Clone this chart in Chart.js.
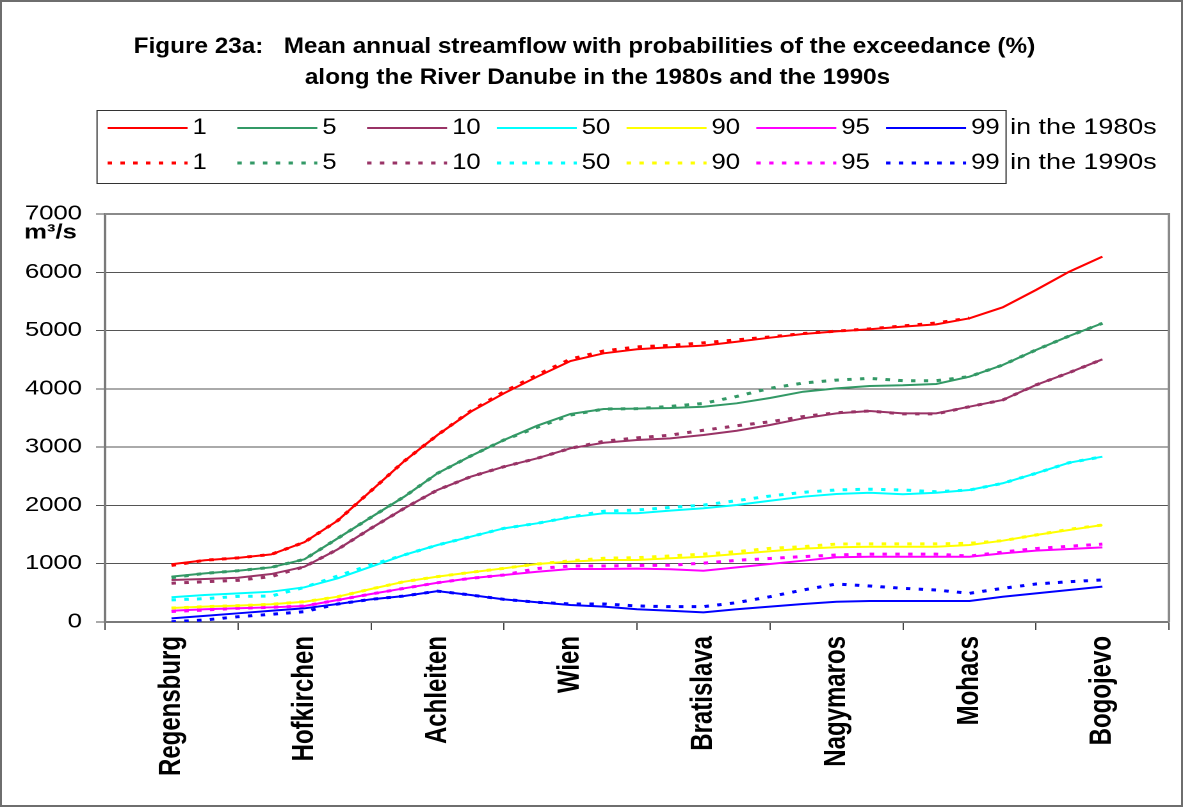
<!DOCTYPE html>
<html>
<head>
<meta charset="utf-8">
<title>Danube streamflow</title>
<script src="https://cdn.jsdelivr.net/npm/chart.js@4.4.0/dist/chart.umd.min.js"></script>
<style>
  html, body { margin: 0; padding: 0; background: #fff; }
  #wrap {
    position: absolute; left: 0; top: 0;
    width: 924px; height: 807px;
    transform: scaleX(1.2803); transform-origin: 0 0;
  }
  #frame {
    position: absolute; left: 0; top: 0;
    width: 1183px; height: 807px; box-sizing: border-box;
    border: 2px solid #6e6e6e; pointer-events: none;
  }
</style>
</head>
<body>
<div id="wrap"><canvas id="chartDanube"></canvas></div>
<div id="frame"></div>
<script>
// ==============================
//  DATOS
// ==============================
const stations = ["Regensburg", "Hofkirchen", "Achleiten", "Wien", "Bratislava", "Nagymaros", "Mohacs", "Bogojevo"];

// position along the river, in station units (station i sits at i + 0.5)
const positions = [0.5, 0.75, 1, 1.25, 1.5, 1.75, 2, 2.25, 2.5, 2.75, 3, 3.25, 3.5, 3.75, 4,
  4.25, 4.5, 4.75, 5, 5.25, 5.5, 5.75, 6, 6.25, 6.5, 6.75, 7, 7.25, 7.5];

const yTicks = [0, 1000, 2000, 3000, 4000, 5000, 6000, 7000];

// 1980s (m3/s)
const q1_80  = [990, 1060, 1100, 1160, 1370, 1740, 2250, 2760, 3208, 3608, 3924, 4209, 4478, 4610, 4679, 4713, 4741, 4809, 4878, 4941, 4987, 5022, 5067, 5107, 5210, 5399, 5696, 6010, 6268];
const q5_80  = [778, 835, 880, 938, 1076, 1436, 1796, 2150, 2551, 2848, 3123, 3368, 3569, 3654, 3660, 3672, 3694, 3752, 3843, 3951, 4009, 4049, 4061, 4083, 4209, 4409, 4667, 4907, 5125];
const q10_80 = [720, 738, 760, 823, 949, 1247, 1607, 1950, 2265, 2493, 2665, 2808, 2980, 3076, 3123, 3151, 3208, 3282, 3380, 3495, 3580, 3620, 3580, 3580, 3694, 3809, 4066, 4278, 4507];
const q50_80 = [424, 463, 492, 520, 595, 750, 949, 1150, 1321, 1464, 1607, 1693, 1796, 1865, 1865, 1910, 1951, 2007, 2081, 2150, 2196, 2218, 2191, 2218, 2265, 2380, 2551, 2733, 2836];
const q90_80 = [240, 263, 280, 304, 348, 434, 566, 692, 778, 852, 921, 995, 1035, 1064, 1064, 1093, 1120, 1167, 1213, 1258, 1282, 1292, 1292, 1292, 1321, 1395, 1493, 1578, 1664];
const q95_80 = [194, 218, 235, 252, 275, 377, 480, 578, 674, 750, 806, 863, 909, 909, 915, 904, 880, 938, 995, 1052, 1110, 1120, 1120, 1120, 1120, 1178, 1224, 1252, 1281];
const q99_80 = [63, 105, 149, 194, 235, 309, 389, 446, 530, 463, 389, 338, 292, 263, 218, 194, 166, 218, 263, 309, 348, 360, 360, 360, 360, 434, 492, 549, 606];

// 1990s (m3/s)
const q1_90  = [970, 1060, 1100, 1160, 1370, 1740, 2250, 2760, 3208, 3620, 3950, 4240, 4510, 4650, 4720, 4745, 4790, 4840, 4890, 4950, 4990, 5030, 5080, 5130, 5215, null, null, null, null];
const q5_90  = [760, 835, 880, 938, 1076, 1436, 1796, 2150, 2551, 2848, 3123, 3340, 3550, 3654, 3660, 3700, 3750, 3870, 4010, 4100, 4150, 4180, 4140, 4140, 4210, 4409, 4667, 4907, 5125];
const q10_90 = [665, 690, 715, 780, 949, 1247, 1607, 1950, 2265, 2493, 2665, 2808, 2980, 3100, 3160, 3206, 3290, 3367, 3435, 3525, 3590, 3620, 3570, 3570, 3694, 3809, 4066, 4278, 4507];
const q50_90 = [380, 400, 440, 445, 595, 790, 980, 1150, 1321, 1464, 1607, 1693, 1800, 1900, 1922, 1965, 2006, 2082, 2161, 2225, 2266, 2278, 2265, 2235, 2265, 2380, 2551, 2733, 2836];
const q90_90 = [240, 263, 280, 304, 348, 434, 566, 692, 778, 852, 921, 995, 1050, 1094, 1104, 1133, 1165, 1207, 1263, 1293, 1337, 1340, 1340, 1340, 1350, 1395, 1493, 1590, 1664];
const q95_90 = [180, 205, 235, 252, 275, 377, 480, 578, 674, 750, 806, 918, 960, 960, 970, 974, 1010, 1058, 1090, 1122, 1150, 1165, 1165, 1165, 1130, 1200, 1260, 1300, 1336];
const q99_90 = [5, 34, 91, 132, 177, 309, 389, 446, 530, 463, 389, 338, 310, 309, 275, 263, 263, 332, 434, 549, 652, 618, 578, 549, 492, 578, 652, 692, 721];

const probs   = ["1", "5", "10", "50", "90", "95", "99"];
const colores = ["#ff0000", "#339966", "#993366", "#00ffff", "#ffff00", "#ff00ff", "#0000ff"];
const data80  = [q1_80, q5_80, q10_80, q50_80, q90_80, q95_80, q99_80];
const data90  = [q1_90, q5_90, q10_90, q50_90, q90_90, q95_90, q99_90];

const FONT = '"Liberation Sans", Arial, sans-serif';
const DOTS = [3.5, 6.5];

function puntos(arr) {
  return positions.map((p, i) => ({ x: p, y: arr[i] }));
}

const datasets = [];
probs.forEach((p, i) => {
  datasets.push({
    label: p + " (1980s)", data: puntos(data80[i]), xAxisID: "x", yAxisID: "y",
    borderColor: colores[i], borderWidth: 2, pointRadius: 0, tension: 0, order: 1
  });
});
probs.forEach((p, i) => {
  datasets.push({
    label: p + " (1990s)", data: puntos(data90[i]), xAxisID: "x", yAxisID: "y",
    borderColor: colores[i], borderWidth: 3, borderDash: DOTS, borderCapStyle: "butt",
    pointRadius: 0, tension: 0, order: 0, spanGaps: false
  });
});

// texto algo mas alto que ancho, como en el original
function textoAlto(ctx, txt, x, y, sy) {
  ctx.save();
  ctx.translate(x, y);
  ctx.scale(1, sy);
  ctx.fillText(txt, 0, 0);
  ctx.restore();
}

// ==============================
//  PLUGIN: titulo, leyenda, marco
// ==============================
const decoracion = {
  id: "decoracion",
  beforeDatasetsDraw(chart) {
    const { ctx, chartArea: a } = chart;
    ctx.save();
    ctx.strokeStyle = "#8a8a8a";
    ctx.lineWidth = 2;
    ctx.beginPath();
    ctx.moveTo(a.left, a.top);
    ctx.lineTo(a.right, a.top);
    ctx.lineTo(a.right, a.bottom);
    ctx.stroke();
    ctx.restore();
  },
  afterDraw(chart) {
    const { ctx } = chart;
    ctx.save();
    ctx.fillStyle = "#000";
    ctx.textBaseline = "middle";

    // title
    ctx.font = "bold 19px " + FONT;
    ctx.textAlign = "center";
    textoAlto(ctx, "Figure 23a:   Mean annual streamflow with probabilities of the exceedance (%)", 456.5, 47, 1.15);
    textoAlto(ctx, "along the River Danube in the 1980s and the 1990s", 466.7, 78, 1.15);

    // axis unit
    ctx.textAlign = "right";
    ctx.font = "bold 20px " + FONT;
    ctx.fillText("m³/s", 60, 233);

    // legend box
    ctx.strokeStyle = "#333";
    ctx.lineWidth = 1;
    ctx.strokeRect(75.8, 110.5, 710, 73);

    ctx.font = "20px " + FONT;
    ctx.textAlign = "left";
    const rows = [128, 163];
    probs.forEach((p, i) => {
      const x0 = 84 + 101.34 * i;
      rows.forEach((y, r) => {
        ctx.beginPath();
        ctx.strokeStyle = colores[i];
        ctx.lineWidth = r === 0 ? 2 : 3;
        ctx.setLineDash(r === 0 ? [] : DOTS);
        ctx.moveTo(x0, y);
        ctx.lineTo(x0 + 62.5, y);
        ctx.stroke();
        ctx.setLineDash([]);
        textoAlto(ctx, p, x0 + 66.4, y, 1.1);
      });
    });
    ctx.font = "21px " + FONT;
    textoAlto(ctx, "in the 1980s", 789, rows[0], 1.05);
    textoAlto(ctx, "in the 1990s", 789, rows[1], 1.05);
    ctx.restore();
  }
};

// ==============================
//  GRAFICO
// ==============================
const ctxDanube = document.getElementById("chartDanube").getContext("2d");
new Chart(ctxDanube, {
  type: "line",
  data: { datasets },
  plugins: [decoracion],
  options: {
    responsive: true,
    maintainAspectRatio: false,
    animation: false,
    devicePixelRatio: 2,
    events: [],
    layout: { padding: { top: 214, left: 0, right: 11, bottom: 5 } },
    plugins: { legend: { display: false }, tooltip: { enabled: false }, title: { display: false } },
    scales: {
      x: { type: "linear", min: 0, max: 8, display: false },
      xc: {
        type: "category",
        position: "bottom",
        labels: stations,
        offset: true,
        grid: { offset: true, drawOnChartArea: false, drawTicks: true, tickLength: 8, color: "#444" },
        border: { color: "#7a7a7a", width: 2 },
        ticks: {
          autoSkip: false, minRotation: 90, maxRotation: 90, padding: 6, color: "#000",
          font: { family: FONT, size: 24, weight: "bold" }
        },
        afterFit(s) { s.height = 180; }
      },
      y: {
        min: 0, max: 7000,
        afterBuildTicks(s) { s.ticks = yTicks.map(v => ({ value: v })); },
        grid: { color: "#555", lineWidth: 1, tickLength: 7 },
        border: { color: "#7a7a7a", width: 2 },
        ticks: {
          padding: 11, color: "#000", font: { family: FONT, size: 20 },
          callback: (v) => String(v)
        },
        afterFit(s) { s.width = 82; }
      }
    }
  }
});
</script>
</body>
</html>
